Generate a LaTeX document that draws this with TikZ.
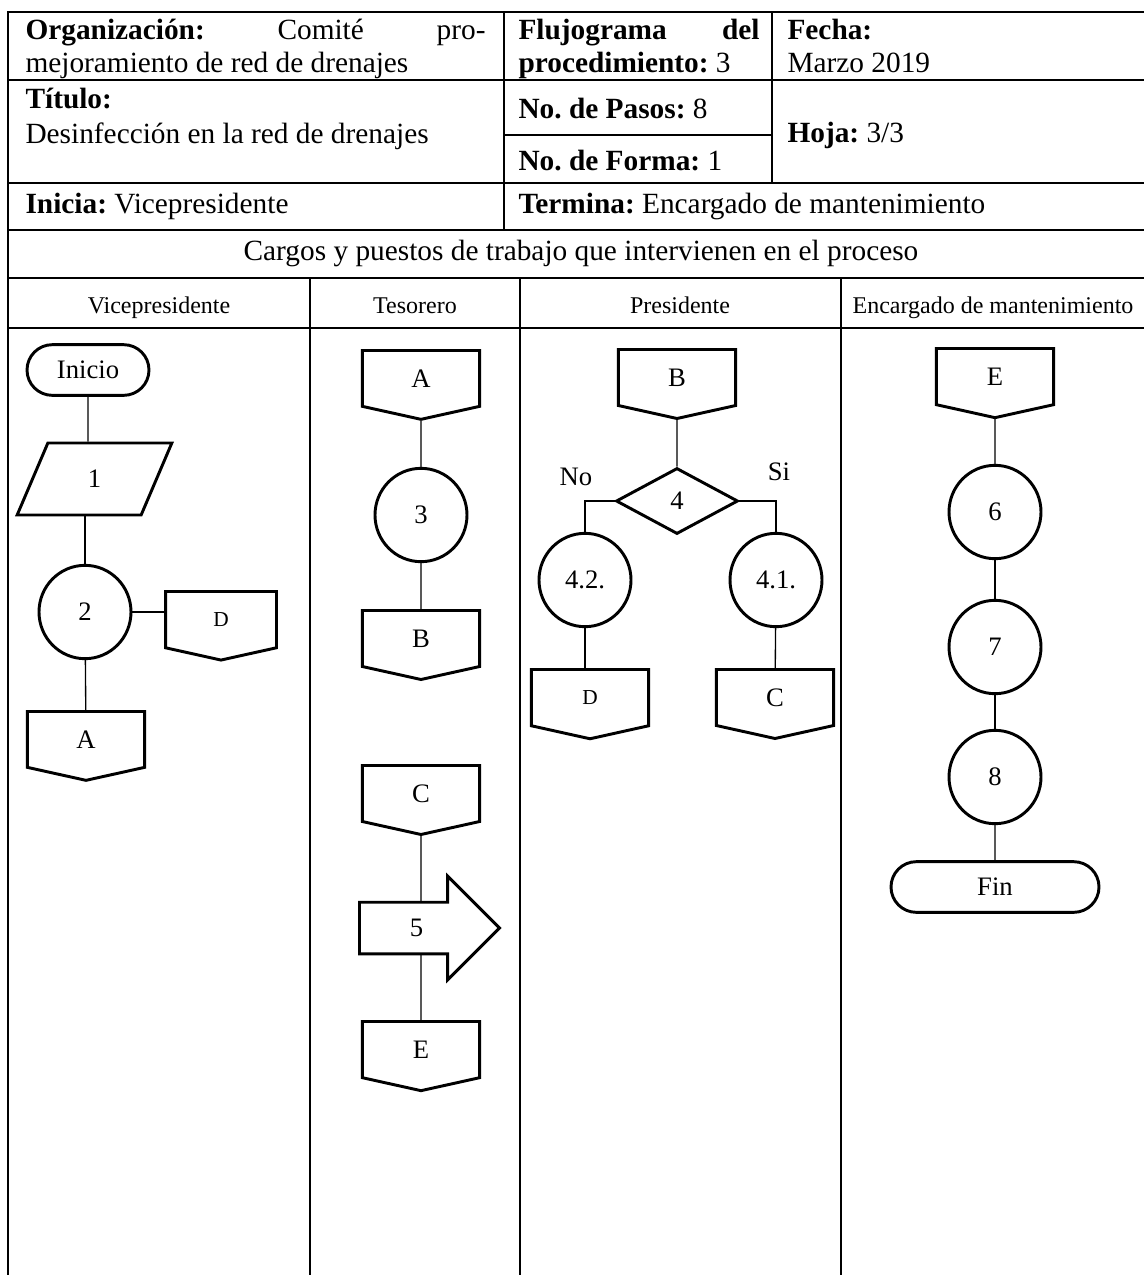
\documentclass[tikz,border=0pt]{standalone}
\usepackage{fontspec}
\setmainfont{Liberation Serif}
\usetikzlibrary{shapes.geometric,shapes.misc,shapes.symbols,shapes.arrows,backgrounds}
\frenchspacing
\begin{document}
\begin{tikzpicture}[x=0.375pt,y=-0.375pt]
    \tikzset{
        tableline/.style={line width=0.6pt},
        hdr/.style={anchor=base west, inner sep=0pt, font=\fontsize{11}{12.5}\selectfont},
        lanehdr/.style={anchor=base, inner sep=0pt, font=\fontsize{9}{10}\selectfont},
        term/.style={draw, line width=1.1pt, rounded rectangle, fill=white, minimum width=45.75pt, minimum height=19pt, inner sep=0pt, font=\fontsize{10}{12}\selectfont},
        proc/.style={draw, line width=1.1pt, ellipse, fill=white, minimum width=34.5pt, minimum height=35pt, inner sep=0pt, font=\fontsize{10}{12}\selectfont},
        offpage/.style={draw, line width=1.1pt, signal, signal to=south, signal from=nowhere, signal pointer angle=155, fill=white, minimum width=44pt, minimum height=21.75pt, inner sep=0pt, anchor=north, font=\fontsize{10}{12}\selectfont},
        inputbox/.style={draw, line width=1.1pt, trapezium, trapezium left angle=76, trapezium right angle=104, trapezium stretches=true, minimum width=58pt, minimum height=27pt, inner sep=0pt, font=\fontsize{10}{12}\selectfont},
        decision/.style={draw, line width=1.1pt, diamond, minimum width=45.75pt, minimum height=24.75pt, inner sep=0pt, font=\fontsize{10}{12}\selectfont},
        moveto/.style={draw, line width=1.1pt, single arrow, single arrow head extend=9.75pt, minimum height=52.5pt, minimum width=37.9pt, inner xsep=0pt, inner ysep=5.8pt, fill=white, anchor=west, font=\fontsize{10}{12}\selectfont},
        link/.style={line width=0.5pt}
    }

    \useasboundingbox (0,0) rectangle (1144,1275);

    \draw[tableline] (8,1275) -- (8,12) -- (1144,12);
    \foreach \y in {80,183,230,278,328}{
        \draw[tableline] (8,\y) -- (1144,\y);
    }
    \draw[tableline] (504,12) -- (504,230);
    \draw[tableline] (772,12) -- (772,183);
    \draw[tableline] (504,135) -- (772,135);
    \foreach \x in {310,520,841}{
        \draw[tableline] (\x,278) -- (\x,1275);
    }

    \node[hdr] (org) at (25,39) {\makebox[172.5pt][s]{\textbf{Organización:} Comité pro-}};
    \node[hdr] (org2) at (25,72) {mejoramiento de red de drenajes};
    \node[hdr] (flujo) at (518,39) {\makebox[90.4pt][s]{\textbf{Flujograma} \textbf{del}}};
    \node[hdr] (flujo2) at (518,72) {\textbf{procedimiento:} 3};
    \node[hdr] (fecha) at (787,39) {\textbf{Fecha:}};
    \node[hdr] (fecha2) at (787,72) {Marzo 2019};
    \node[hdr] (titulo) at (25,108) {\textbf{Título:}};
    \node[hdr] (titulo2) at (25,143) {Desinfección en la red de drenajes};
    \node[hdr] (pasos) at (518,118) {\textbf{No. de Pasos:} 8};
    \node[hdr] (forma) at (518,170) {\textbf{No. de Forma:} 1};
    \node[hdr] (hoja) at (787,142) {\textbf{Hoja:} 3/3};
    \node[hdr] (inicia) at (25,213) {\textbf{Inicia:} Vicepresidente};
    \node[hdr] (termina) at (518,213) {\textbf{Termina:} Encargado de mantenimiento};
    \node[anchor=base, inner sep=0pt, font=\fontsize{11}{12}\selectfont] (cargos) at (581,260) {Cargos y puestos de trabajo que intervienen en el proceso};

    \node[lanehdr] (vice) at (159,313) {Vicepresidente};
    \node[lanehdr] (teso) at (415,313) {Tesorero};
    \node[lanehdr] (pres) at (680,313) {Presidente};
    \node[lanehdr] (manto) at (993,313) {Encargado de mantenimiento};

    \draw node[term] (inicio) at (88,370) {Inicio};
    \draw node[inputbox] (p1) at (94.5,479) {1};
    \draw node[proc] (p2) at (85,612) {2};
    \draw node[offpage, minimum width=41.6pt, font=\fontsize{8}{10}\selectfont] (d1) at (221,590) {D};
    \draw node[offpage] (a1) at (86,710) {A};

    \draw node[offpage] (a2) at (421,349) {A};
    \draw node[proc] (p3) at (421,515) {3};
    \draw node[offpage] (b1) at (421,609) {B};
    \draw node[offpage] (c1) at (421,764) {C};
    \draw node[moveto] (five) at (358,928) {5};
    \draw node[offpage] (e1) at (421,1020) {E};

    \draw node[offpage] (b2) at (677,348) {B};
    \draw node[decision] (q4) at (677,501) {4};
    \node (no) at (576,477) {\fontsize{10}{12}\selectfont No};
    \node (si) at (779,472) {\fontsize{10}{12}\selectfont Si};
    \draw node[proc] (p42) at (585,580) {4.2.};
    \draw node[proc] (p41) at (776,580) {4.1.};
    \draw node[offpage, font=\fontsize{8}{10}\selectfont] (d2) at (590,668) {D};
    \draw node[offpage] (c2) at (775,668) {C};

    \draw node[offpage] (e2) at (995,347) {E};
    \draw node[proc] (p6) at (995,512) {6};
    \draw node[proc] (p7) at (995,647) {7};
    \draw node[proc] (p8) at (995,777) {8};
    \draw node[term, minimum width=78pt] (fin) at (995,887) {Fin};

    \begin{scope}[on background layer]
        \foreach \x/\y in {%
            p2/a1, a2/p3, p3/b1, c1/e1, b2/q4, p41/c2, e2/p6, p6/p7, p7/p8, p8/fin%
        }{
            \draw[link] (\x) -- (\y);
        }
        \draw[link] (inicio) -- (inicio |- p1.north);
        \draw[link] (p2 |- p1.south) -- (p2);
        \draw[link] (p2) -- (p2 -| d1.west);
        \draw[link] (p42) -- (p42 |- d2.north);
        \draw[link] (q4.west) -| (p42);
        \draw[link] (q4.east) -| (p41);
    \end{scope}
\end{tikzpicture}
\end{document}
